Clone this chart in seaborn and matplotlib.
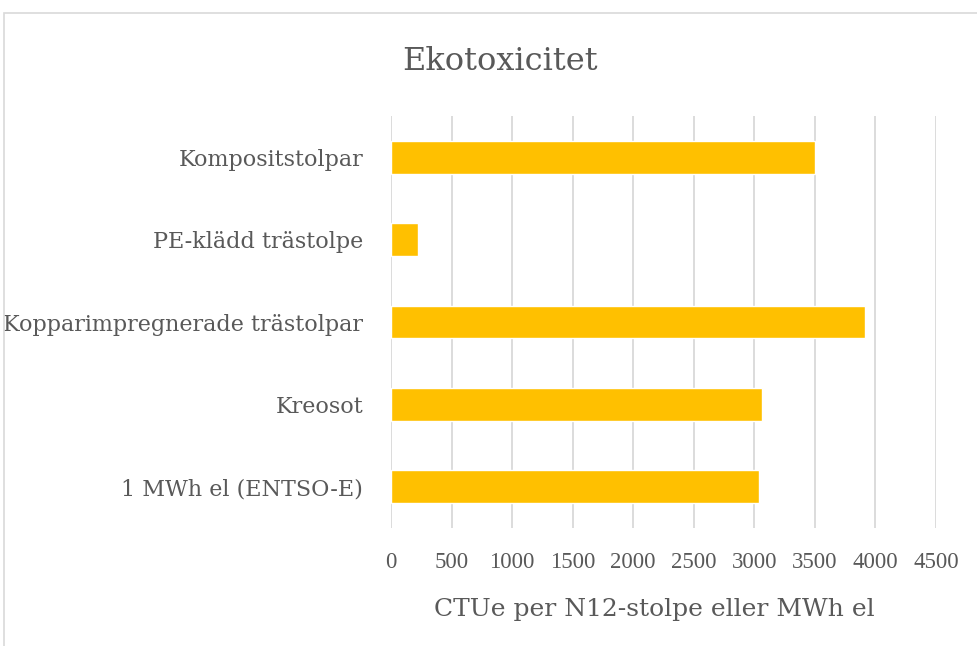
import matplotlib
matplotlib.use("Agg")
import matplotlib.pyplot as plt
import matplotlib.patches as mpatches
import pandas as pd
import seaborn as sns

# data
categories = [
    "Kompositstolpar",
    "PE-klädd trästolpe",
    "Kopparimpregnerade trästolpar",
    "Kreosot",
    "1 MWh el (ENTSO-E)",
]
values = [3505, 225, 3915, 3060, 3040]
x_ticks = [0, 500, 1000, 1500, 2000, 2500, 3000, 3500, 4000, 4500]

df = pd.DataFrame({"kategori": categories, "ctue": values})

sns.set_theme(style="white")
plt.rcParams["font.family"] = ["DejaVu Serif"]
text_col = "#595959"

fig = plt.figure(figsize=(9.78, 6.46), dpi=100)
ax = fig.add_axes([391 / 978, 1 - 528 / 646, (936 - 391) / 978, (528 - 116) / 646])

sns.barplot(data=df, x="ctue", y="kategori", order=categories, orient="h",
            color="#FFC000", width=0.4, saturation=1, ax=ax)

ax.set_xlim(0, 4500)
ax.set_xticks(x_ticks)
ax.set_xticklabels([str(t) for t in x_ticks], family=["Liberation Serif", "DejaVu Serif"])
ax.xaxis.grid(True, color="#D9D9D9", linewidth=1.3)
ax.set_axisbelow(True)
for s in ax.spines.values():
    s.set_visible(False)

ax.tick_params(axis="y", length=0, pad=20, labelsize=16, labelcolor=text_col)
ax.tick_params(axis="x", length=0, pad=17, labelsize=16.5, labelcolor=text_col)
ax.set_ylabel("")
ax.set_xlabel("CTUe per N12-stolpe eller MWh el", fontsize=18, color=text_col, labelpad=18)
ax.xaxis.label.set_x(0.483)

fig.text(500 / 978, 1 - 61 / 646, "Ekotoxicitet", ha="center", va="center",
         fontsize=23, color=text_col)

# light chart frame like the original
frame = mpatches.Rectangle((4 / 978, -0.05), 1.0, 1 - 13 / 646 + 0.05,
                           transform=fig.transFigure, fill=False,
                           edgecolor="#D9D9D9", linewidth=1.2)
fig.add_artist(frame)

fig.savefig("out.png", dpi=100)
